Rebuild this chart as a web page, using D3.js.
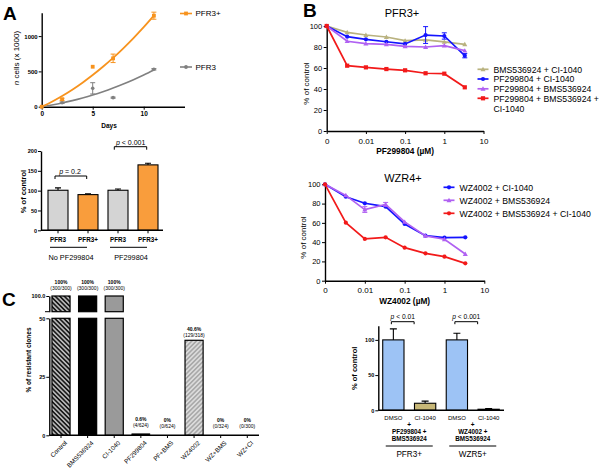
<!DOCTYPE html>
<html><head><meta charset="utf-8">
<script src="https://cdn.jsdelivr.net/npm/d3@7"></script>
<style>body{margin:0;background:#fff}svg{display:block}</style>
</head><body><svg id="c" width="602" height="473"></svg>
<script>
// ---------- DATA ----------
// Panel A (growth)
const growthDays = [0, 2, 5, 7, 11];
const pfr3PlusCells = [0, 105, 566, 685, 1289];
const pfr3PlusErr = [0, 15, 0, 60, 50];
const pfr3Cells = [0, 57, 260, 128, 530];
const pfr3Err = [0, 10, 80, 8, 10];
const fitDays = [0, 1, 2, 3, 4, 5, 6, 7, 8, 9, 10, 11];
const pfr3PlusFit = [0, 71, 152, 241, 340, 448, 565, 691, 827, 972, 1126, 1290];
const pfr3Fit = [0, 24, 52, 86, 124, 166, 213, 265, 322, 383, 449, 520];
const growthTicksY = [0, 500, 1000];
const growthTicksX = [0, 5, 10];
// Panel A (bars)
const a2Labels = ["PFR3", "PFR3+", "PFR3", "PFR3+"];
const a2Values = [101, 90, 101, 165];
const a2Err = [6, 2, 3, 4];
const a2Groups = ["No PF299804", "PF299804"];
const a2Pvals = ["= 0.2", "< 0.001"];
const a2TicksY = [0, 50, 100, 150, 200];
// Panel B (dose response)
const doses = [0, 0.00333, 0.01, 0.0333, 0.1, 0.333, 1, 3.33];
const doseTicks = [0.001, 0.01, 0.1, 1, 10];
const doseTickLabels = ["0", "0.01", "0.1", "1", "10"];
const pctTicks = [0, 20, 40, 60, 80, 100];
const pfrNames = ["BMS536924 + CI-1040", "PF299804 + CI-1040", "PF299804 + BMS536924", "PF299804 + BMS536924 + CI-1040"];
const pfrBmsCi = [100, 94, 91.4, 89.5, 86, 86.7, 84.8, 82.5];
const pfrPfCi = [100, 89.8, 87.3, 85, 82.9, 91.4, 90.5, 71.7];
const pfrPfCiErr = [0, 1, 1, 1, 1, 8, 3, 2];
const pfrPfBms = [100, 85.5, 83.2, 82.5, 80.6, 80, 81.3, 76.5];
const pfrPfBmsCi = [100, 62.2, 60.6, 59, 57.8, 55, 54.6, 41.6];
const wzrNames = ["WZ4002 + CI-1040", "WZ4002 + BMS536924", "WZ4002 + BMS536924 + CI-1040"];
const wzrWzCi = [100, 87.1, 80.3, 76.8, 58.8, 46.7, 44.6, 45];
const wzrWzBms = [100, 88.5, 73.8, 79.2, 61, 46.5, 43, 27.7];
const wzrWzBmsErr = [0, 0, 3, 2, 0, 0, 0, 0];
const wzrWzBmsCi = [100, 60.2, 43.3, 45, 34.3, 28.4, 24.9, 18];
// Panel B (bars)
const b3Labels = ["DMSO", "CI-1040", "DMSO", "CI-1040"];
const b3Values = [100, 10, 100, 1.5];
const b3Err = [15.7, 3, 9.5, 1];
const b3Groups = ["PFR3+", "WZR5+"];
const b3Combos = [["PF299804 +", "BMS536924"], ["WZ4002 +", "BMS536924"]];
const b3Pvals = ["< 0.01", "< 0.001"];
const b3TicksY = [0, 50, 100];
// Panel C
const cLabels = ["Control", "BMS536924", "CI-1040", "PF299804", "PF+BMS", "WZ4002", "WZ+BMS", "WZ+CI"];
const cValues = [100, 100, 100, 0.6, 0, 40.6, 0, 0];
const cPct = ["100%", "100%", "100%", "0.6%", "0%", "40.6%", "0%", "0%"];
const cCounts = ["(300/300)", "(300/300)", "(300/300)", "(4/624)", "(0/624)", "(129/318)", "(0/324)", "(0/300)"];
const cTicksLow = [0, 25, 50];

// ---------- DRAW ----------
const FONT = 'Arial, "Liberation Sans", sans-serif';
const svg = d3.select("#c").attr("font-family", FONT);
svg.append("rect").attr("width", 602).attr("height", 473).attr("fill", "#fff");

const ORANGE = "#f7931e", GRAY = "#808080", KHAKI = "#b9b27f", BLUE = "#1414ff", PURPLE = "#b061f2", RED = "#f21a1a";
const fmt = d3.format("d");

function styleAxis(g, fs, bold, sw) {
  g.attr("font-family", FONT).attr("font-size", fs);
  g.select(".domain").attr("stroke", "#000").attr("stroke-width", sw || 1.4);
  g.selectAll(".tick line").attr("stroke", "#000").attr("stroke-width", 1);
  g.selectAll(".tick text").attr("fill", "#000").attr("font-weight", bold ? "bold" : "normal");
}
function text(x, y, s, fs, opts = {}) {
  const t = svg.append("text").attr("x", x).attr("y", y).attr("font-size", fs)
    .attr("text-anchor", opts.anchor || "middle").attr("fill", "#000")
    .attr("font-weight", opts.bold ? "bold" : "normal");
  if (opts.rotate) t.attr("transform", `rotate(${opts.rotate},${x},${y})`);
  t.text(s);
  return t;
}
function pText(x, y, s, fs) {
  const t = svg.append("text").attr("x", x).attr("y", y).attr("font-size", fs).attr("text-anchor", "middle");
  t.append("tspan").attr("font-style", "italic").text("p");
  t.append("tspan").text(" " + s);
}
function bracket(x1, x2, y, drop) {
  svg.append("path").attr("d", `M${x1},${y + drop}V${y}H${x2}V${y + drop}`)
    .attr("fill", "none").attr("stroke", "#000").attr("stroke-width", 1);
}
function errBar(x, y1, y2, cap, color, sw) {
  svg.append("path").attr("d", `M${x},${y1}V${y2}M${x - cap},${y2}H${x + cap}`)
    .attr("stroke", color).attr("stroke-width", sw || 1).attr("fill", "none");
}
function errBoth(x, yLo, yHi, cap, color) {
  svg.append("path").attr("d", `M${x},${yLo}V${yHi}M${x - cap},${yHi}H${x + cap}M${x - cap},${yLo}H${x + cap}`)
    .attr("stroke", color).attr("stroke-width", 1).attr("fill", "none");
}
function marker(x, y, shape, color, size) {
  const s = size || 4;
  if (shape === "square") svg.append("rect").attr("x", x - s / 2).attr("y", y - s / 2).attr("width", s).attr("height", s).attr("fill", color);
  else if (shape === "circle") svg.append("circle").attr("cx", x).attr("cy", y).attr("r", s / 2).attr("fill", color);
  else svg.append("path").attr("d", `M${x},${y - s * 0.6}L${x + s * 0.6},${y + s * 0.45}L${x - s * 0.6},${y + s * 0.45}Z`).attr("fill", color);
}

// Panel letters
text(3, 20, "A", 19, { bold: true, anchor: "start" });
text(303, 17, "B", 19, { bold: true, anchor: "start" });
text(2, 306, "C", 19, { bold: true, anchor: "start" });

// ===== Panel A top =====
{
  const x = d3.scaleLinear([0, 14], [41.7, 184.5]);
  const y = d3.scaleLinear([0, 1330], [106.7, 12.8]);
  styleAxis(svg.append("g").attr("transform", "translate(0,106.7)")
    .call(d3.axisBottom(x).tickValues(growthTicksX).tickFormat(fmt).tickSize(3).tickSizeOuter(0).tickPadding(1.5)), 6.5, true);
  styleAxis(svg.append("g").attr("transform", "translate(41.7,0)")
    .call(d3.axisLeft(y).tickValues(growthTicksY).tickFormat(fmt).tickSize(3).tickSizeOuter(0).tickPadding(1)), 6, true);
  const line = d3.line().x((d, i) => x(fitDays[i])).y(d => y(d)).curve(d3.curveMonotoneX);
  svg.append("path").attr("d", line(pfr3Fit)).attr("fill", "none").attr("stroke", GRAY).attr("stroke-width", 1.6);
  svg.append("path").attr("d", line(pfr3PlusFit)).attr("fill", "none").attr("stroke", ORANGE).attr("stroke-width", 1.8);
  growthDays.forEach((d, i) => {
    if (pfr3Err[i] > 0) errBoth(x(d), y(pfr3Cells[i] - pfr3Err[i]), y(pfr3Cells[i] + pfr3Err[i]), 2.5, GRAY);
    marker(x(d), y(pfr3Cells[i]), "circle", GRAY, 3.6);
    if (pfr3PlusErr[i] > 0) errBoth(x(d), y(pfr3PlusCells[i] - pfr3PlusErr[i]), y(pfr3PlusCells[i] + pfr3PlusErr[i]), 2.5, ORANGE);
    marker(x(d), y(pfr3PlusCells[i]), "square", ORANGE, 3.8);
  });
  // legend
  [[ORANGE, "PFR3+", 13.5, "square"], [GRAY, "PFR3", 67, "circle"]].forEach(([c, s, yy, sh]) => {
    svg.append("line").attr("x1", 180).attr("x2", 192).attr("y1", yy).attr("y2", yy).attr("stroke", c).attr("stroke-width", 1.6);
    marker(186, yy, sh, c, 3.8);
    text(195.5, yy + 2.8, s, 8, { anchor: "start" });
  });
  text(109, 128, "Days", 6.5, { bold: true });
  const yl = svg.append("text").attr("transform", "translate(19,58) rotate(-90)").attr("text-anchor", "middle").attr("font-size", 8);
  yl.append("tspan").attr("font-style", "italic").text("n");
  yl.append("tspan").text(" cells (x 1000)");
}

// ===== Panel A bars =====
{
  const x = d3.scaleBand().domain(d3.range(a2Values.length)).range([43, 163]).paddingInner(1 / 3).paddingOuter(1 / 6);
  const y = d3.scaleLinear([0, 200], [230.3, 151]);
  const cols = ["#d4d4d4", "#f99d3c", "#d4d4d4", "#f99d3c"];
  a2Values.forEach((v, i) => {
    const cx = x(i) + x.bandwidth() / 2;
    errBar(cx, y(v), y(v + a2Err[i]), 3, "#000", 1.1);
    svg.append("rect").attr("x", x(i)).attr("y", y(v)).attr("width", x.bandwidth()).attr("height", y(0) - y(v))
      .attr("fill", cols[i]).attr("stroke", "#000").attr("stroke-width", 1.1);
  });
  styleAxis(svg.append("g").attr("transform", "translate(41,0)")
    .call(d3.axisLeft(y).tickValues(a2TicksY).tickSize(3).tickSizeOuter(0).tickPadding(1)), 5.5, true);
  const xa = svg.append("g").attr("transform", "translate(0,230.3)");
  xa.append("line").attr("x1", 41).attr("x2", 163).attr("stroke", "#000").attr("stroke-width", 1.4);
  a2Labels.forEach((s, i) => {
    const cx = x(i) + x.bandwidth() / 2;
    xa.append("line").attr("x1", cx).attr("x2", cx).attr("y1", 0).attr("y2", 3).attr("stroke", "#000");
    text(cx, 241.5, s, 6.3, { bold: true });
  });
  a2Groups.forEach((g, k) => {
    const c0 = x(2 * k) + x.bandwidth() / 2, c1 = x(2 * k + 1) + x.bandwidth() / 2;
    svg.append("line").attr("x1", c0 - 8).attr("x2", c1 - 1).attr("y1", 247.3).attr("y2", 247.3).attr("stroke", "#000").attr("stroke-width", 1);
    text((c0 + c1) / 2 - 2, 260, g, 7.3);
  });
  bracket(55, 86.7, 176, 3); pText(70, 174, a2Pvals[0], 7);
  bracket(114.3, 146.7, 146.7, 3); pText(130.7, 145, a2Pvals[1], 7);
  text(25.5, 191.5, "% of control", 7.5, { bold: true, rotate: -90 });
}

// ===== Panel B dose-response helper =====
function dosePlot(cfg) {
  const x = d3.scaleLog([0.001, 10], [cfg.x0, cfg.x1]);
  const y = d3.scaleLinear([0, 100], [cfg.y0, cfg.y100]);
  const xp = d => d === 0 ? x(0.001) : x(d);
  styleAxis(svg.append("g").attr("transform", `translate(0,${cfg.y0})`)
    .call(d3.axisBottom(x).tickValues(doseTicks).tickFormat((d, i) => doseTickLabels[i]).tickSize(3).tickSizeOuter(0).tickPadding(4)), 8, false);
  styleAxis(svg.append("g").attr("transform", `translate(${cfg.x0},0)`)
    .call(d3.axisLeft(y).tickValues(pctTicks).tickSize(3).tickSizeOuter(0).tickPadding(1.5)), 7.5, false);
  cfg.series.forEach(s => {
    const line = d3.line().x((d, i) => xp(doses[i])).y(d => y(d));
    svg.append("path").attr("d", line(s.values)).attr("fill", "none").attr("stroke", s.color).attr("stroke-width", 1.7);
    s.values.forEach((v, i) => {
      if (s.err && s.err[i] > 1) errBoth(xp(doses[i]), y(v - s.err[i]), y(v + s.err[i]), 2.5, s.color);
      marker(xp(doses[i]), y(v), s.shape, s.color, 4.2);
    });
  });
  text(cfg.titleX, cfg.titleY, cfg.title, 11);
  text((cfg.x0 + cfg.x1) / 2, cfg.y0 + 23, cfg.xlabel, 8.3, { bold: true });
  text(cfg.ylabX, (cfg.y0 + cfg.y100) / 2 + 5, "% of control", 8, { rotate: -90 });
  cfg.series.forEach((s, k) => {
    const yy = cfg.legY[k];
    svg.append("line").attr("x1", cfg.legX).attr("x2", cfg.legX + 11).attr("y1", yy).attr("y2", yy).attr("stroke", s.color).attr("stroke-width", 1.7);
    marker(cfg.legX + 5.5, yy, s.shape, s.color, 4.2);
    s.legend.forEach((ln, j) => text(cfg.legX + 16, yy + 3.2 + j * 10.5, ln, 8.7, { anchor: "start" }));
  });
}

dosePlot({
  x0: 326.7, x1: 483.5, y0: 131, y100: 26, title: "PFR3+", titleX: 402, titleY: 17,
  xlabel: "PF299804 (\u00b5M)", ylabX: 309, legX: 477.5, legY: [69.3, 79, 88.8, 98.3],
  series: [
    { values: pfrBmsCi, color: KHAKI, shape: "tri", legend: [pfrNames[0]] },
    { values: pfrPfCi, err: pfrPfCiErr, color: BLUE, shape: "circle", legend: [pfrNames[1]] },
    { values: pfrPfBms, color: PURPLE, shape: "tri", legend: [pfrNames[2]] },
    { values: pfrPfBmsCi, color: RED, shape: "square", legend: ["PF299804 + BMS536924 +", "CI-1040"] }
  ]
});
dosePlot({
  x0: 325, x1: 484.3, y0: 280.7, y100: 184.3, title: "WZR4+", titleX: 403, titleY: 182,
  xlabel: "WZ4002 (\u00b5M)", ylabX: 306, legX: 443.5, legY: [187.3, 200.3, 213.3],
  series: [
    { values: wzrWzCi, color: BLUE, shape: "circle", legend: [wzrNames[0]] },
    { values: wzrWzBms, err: wzrWzBmsErr, color: PURPLE, shape: "tri", legend: [wzrNames[1]] },
    { values: wzrWzBmsCi, color: RED, shape: "circle", legend: [wzrNames[2]] }
  ]
});

// ===== Panel B bars =====
{
  const y = d3.scaleLinear([0, 120], [410.3, 325.8]);
  const x = d3.scaleBand().domain(d3.range(b3Values.length)).range([377, 505]).paddingInner(0.33).paddingOuter(0.18);
  const cols = ["#9dc3f5", "#c7b777", "#9dc3f5", "#c7b777"];
  b3Values.forEach((v, i) => {
    const cx = x(i) + x.bandwidth() / 2;
    errBar(cx, y(v), y(v + b3Err[i]), 3.5, "#000", 1.1);
    svg.append("rect").attr("x", x(i)).attr("y", y(v)).attr("width", x.bandwidth()).attr("height", y(0) - y(v))
      .attr("fill", cols[i]).attr("stroke", "#000").attr("stroke-width", 1.1);
    text(cx, 419.5, b3Labels[i], 6);
  });
  styleAxis(svg.append("g").attr("transform", "translate(378.3,0)")
    .call(d3.axisLeft(y).tickValues(b3TicksY).tickSize(3).tickSizeOuter(0).tickPadding(1)), 5.5, true);
  svg.append("line").attr("x1", 378.3).attr("x2", 504).attr("y1", 410.3).attr("y2", 410.3).attr("stroke", "#000").attr("stroke-width", 1.4);
  b3Groups.forEach((g, k) => {
    const c0 = x(2 * k) + x.bandwidth() / 2, c1 = x(2 * k + 1) + x.bandwidth() / 2;
    const cm = (c0 + c1) / 2;
    text(cm, 427, "+", 6.5, { bold: true });
    text(cm, 433.8, b3Combos[k][0], 6.3, { bold: true });
    text(cm, 440.8, b3Combos[k][1], 6.3, { bold: true });
    svg.append("line").attr("x1", cm - 23.5).attr("x2", cm + 23.5).attr("y1", 446).attr("y2", 446).attr("stroke", "#000").attr("stroke-width", 1);
    text(cm, 456.5, g, 8.2);
    bracket(c0 - 2, c1 - 11, 321.7, 2.5);
    pText((c0 + c1 - 13) / 2, 318.5, b3Pvals[k], 6.7);
  });
  text(357.5, 368.3, "% of control", 7.5, { bold: true, rotate: -90 });
}

// ===== Panel C =====
{
  const defs = svg.append("defs");
  const p1 = defs.append("pattern").attr("id", "hatchDark").attr("patternUnits", "userSpaceOnUse")
    .attr("width", 3.2).attr("height", 3.2).attr("patternTransform", "rotate(-45)");
  p1.append("rect").attr("width", 3.2).attr("height", 3.2).attr("fill", "#1a1a1a");
  p1.append("line").attr("x1", 0.8).attr("x2", 0.8).attr("y1", 0).attr("y2", 3.2).attr("stroke", "#fff").attr("stroke-width", 1.1);
  const p2 = defs.append("pattern").attr("id", "hatchLight").attr("patternUnits", "userSpaceOnUse")
    .attr("width", 3.2).attr("height", 3.2).attr("patternTransform", "rotate(45)");
  p2.append("rect").attr("width", 3.2).attr("height", 3.2).attr("fill", "#a9a9a9");
  p2.append("line").attr("x1", 0.8).attr("x2", 0.8).attr("y1", 0).attr("y2", 3.2).attr("stroke", "#ececec").attr("stroke-width", 1.2);

  const fills = ["url(#hatchDark)", "#000", "#9a9a9a", "#000", "#000", "url(#hatchLight)", "#000", "#000"];
  const x = d3.scaleBand().domain(d3.range(cLabels.length)).range([49.3, 259]).paddingInner(0.32).paddingOuter(0.1);
  const yl = d3.scaleLinear([0, 50], [435.3, 318.3]);
  const yu = d3.scaleLinear([93.3, 100], [311.7, 296]);
  cValues.forEach((v, i) => {
    const bx = x(i), bw = x.bandwidth(), cx = bx + bw / 2;
    let top;
    if (v > 50) {
      svg.append("rect").attr("x", bx).attr("y", yl(50)).attr("width", bw).attr("height", yl(0) - yl(50))
        .attr("fill", fills[i]).attr("stroke", "#000").attr("stroke-width", 1.2);
      svg.append("rect").attr("x", bx).attr("y", yu(v)).attr("width", bw).attr("height", yu(93.3) - yu(v))
        .attr("fill", fills[i]).attr("stroke", "#000").attr("stroke-width", 1.2);
      top = yu(v);
    } else {
      if (v > 0) svg.append("rect").attr("x", bx).attr("y", Math.min(yl(v), yl(0) - 1.5)).attr("width", bw)
        .attr("height", Math.max(yl(0) - yl(v), 1.5)).attr("fill", fills[i]).attr("stroke", "#000").attr("stroke-width", v > 5 ? 1.2 : 0.6);
      top = yl(v);
    }
    const off = v > 50 ? 0 : (v > 5 ? 3 : -1);
    text(cx, top - 12 + off, cPct[i], 5, { bold: true });
    text(cx, top - 6 + off, cCounts[i], 5);
    const lbx = cx + 3, lby = 440;
    svg.append("text").attr("x", lbx).attr("y", lby).attr("font-size", 6.3).attr("text-anchor", "end")
      .attr("dominant-baseline", "hanging").attr("transform", `rotate(-45,${lbx},${lby})`).text(cLabels[i]);
  });
  styleAxis(svg.append("g").attr("transform", "translate(49.3,0)")
    .call(d3.axisLeft(yl).tickValues(cTicksLow).tickSize(3).tickSizeOuter(0).tickPadding(1)), 5.5, true);
  const ug = svg.append("g").attr("transform", "translate(49.3,0)")
    .call(d3.axisLeft(yu).tickValues([100]).tickSize(3).tickSizeOuter(0).tickPadding(1));
  styleAxis(ug, 5.5, true);
  svg.append("line").attr("x1", 45).attr("x2", 49.3).attr("y1", 311.7).attr("y2", 311.7).attr("stroke", "#000").attr("stroke-width", 1);
  svg.append("line").attr("x1", 49.3).attr("x2", 259).attr("y1", 435.3).attr("y2", 435.3).attr("stroke", "#000").attr("stroke-width", 1.4);
  cValues.forEach((v, i) => {
    const cx = x(i) + x.bandwidth() / 2;
    svg.append("line").attr("x1", cx).attr("x2", cx).attr("y1", 435.3).attr("y2", 438).attr("stroke", "#000");
  });
  text(30.5, 360, "% of resistant clones", 6.5, { bold: true, rotate: -90 });
}
</script></body></html>
